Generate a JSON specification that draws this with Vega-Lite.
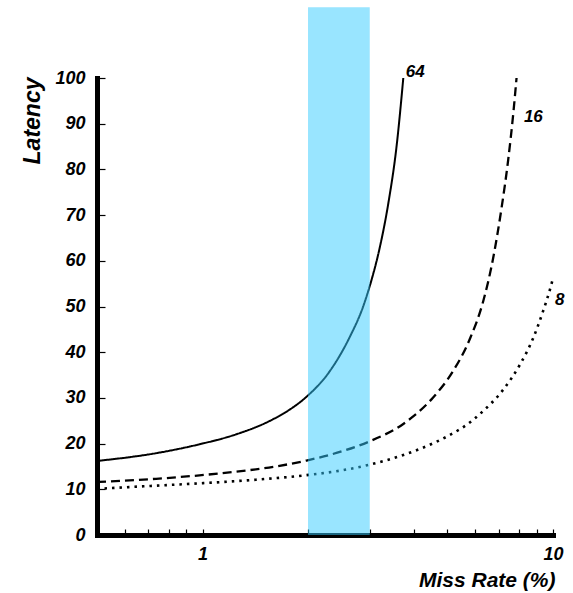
{
  "$schema": "https://vega.github.io/schema/vega-lite/v6.json",
  "width": 456,
  "height": 457,
  "autosize": {"type": "none"},
  "padding": {"left": 97, "top": 78, "right": 20, "bottom": 58},
  "background": "white",
  "config": {
    "view": {"stroke": null},
    "axis": {
      "labelFont": "Liberation Sans",
      "labelFontWeight": "bold",
      "labelFontStyle": "italic",
      "labelColor": "black",
      "labelFontSize": 18,
      "titleFont": "Liberation Sans",
      "titleFontWeight": "bold",
      "titleFontStyle": "italic",
      "titleColor": "black",
      "titleFontSize": 21,
      "domainColor": "black",
      "domainWidth": 5,
      "domainCap": "square",
      "tickColor": "black",
      "tickWidth": 1.2,
      "grid": false
    }
  },
  "datasets": {
    "curves": [
      {"series": "64", "miss": 0.5, "latency": 16.2},
      {"series": "64", "miss": 0.737, "latency": 17.9},
      {"series": "64", "miss": 0.98, "latency": 19.85},
      {"series": "64", "miss": 1.25, "latency": 22.05},
      {"series": "64", "miss": 1.55, "latency": 24.9},
      {"series": "64", "miss": 1.77, "latency": 27.4},
      {"series": "64", "miss": 1.97, "latency": 30.1},
      {"series": "64", "miss": 2.31, "latency": 35.9},
      {"series": "64", "miss": 2.63, "latency": 43.3},
      {"series": "64", "miss": 2.87, "latency": 49.9},
      {"series": "64", "miss": 3.03, "latency": 55.6},
      {"series": "64", "miss": 3.2, "latency": 62.7},
      {"series": "64", "miss": 3.39, "latency": 72.6},
      {"series": "64", "miss": 3.58, "latency": 85.2},
      {"series": "64", "miss": 3.74, "latency": 100},
      {"series": "16", "miss": 0.5, "latency": 11.6},
      {"series": "16", "miss": 0.737, "latency": 12.3},
      {"series": "16", "miss": 0.98, "latency": 13.05},
      {"series": "16", "miss": 1.33, "latency": 14.1},
      {"series": "16", "miss": 1.62, "latency": 15.0},
      {"series": "16", "miss": 1.98, "latency": 16.3},
      {"series": "16", "miss": 2.52, "latency": 18.4},
      {"series": "16", "miss": 3.0, "latency": 20.5},
      {"series": "16", "miss": 3.74, "latency": 24.3},
      {"series": "16", "miss": 4.0, "latency": 26.0},
      {"series": "16", "miss": 4.55, "latency": 30.1},
      {"series": "16", "miss": 5.19, "latency": 35.9},
      {"series": "16", "miss": 5.79, "latency": 42.9},
      {"series": "16", "miss": 6.32, "latency": 51.1},
      {"series": "16", "miss": 6.75, "latency": 60.6},
      {"series": "16", "miss": 7.13, "latency": 71.5},
      {"series": "16", "miss": 7.45, "latency": 82.1},
      {"series": "16", "miss": 7.7, "latency": 92.1},
      {"series": "16", "miss": 7.87, "latency": 100},
      {"series": "8", "miss": 0.5, "latency": 10.1},
      {"series": "8", "miss": 0.737, "latency": 10.8},
      {"series": "8", "miss": 0.98, "latency": 11.3},
      {"series": "8", "miss": 1.42, "latency": 12.1},
      {"series": "8", "miss": 1.98, "latency": 13.1},
      {"series": "8", "miss": 2.52, "latency": 14.2},
      {"series": "8", "miss": 3.0, "latency": 15.4},
      {"series": "8", "miss": 3.74, "latency": 17.5},
      {"series": "8", "miss": 4.65, "latency": 20.4},
      {"series": "8", "miss": 4.97, "latency": 21.5},
      {"series": "8", "miss": 5.92, "latency": 25.2},
      {"series": "8", "miss": 6.19, "latency": 26.5},
      {"series": "8", "miss": 7.21, "latency": 31.8},
      {"series": "8", "miss": 8.05, "latency": 37.3},
      {"series": "8", "miss": 8.78, "latency": 43.1},
      {"series": "8", "miss": 9.38, "latency": 49.1},
      {"series": "8", "miss": 9.8, "latency": 53.7},
      {"series": "8", "miss": 10, "latency": 56.2}
    ],
    "band": [{"x": 2, "x2": 3, "y": 0, "y2": 115.5}],
    "labels": [
      {"text": "64", "miss": 3.8, "latency": 101.3},
      {"text": "16", "miss": 8.26, "latency": 91.5},
      {"text": "8", "miss": 10.13, "latency": 51.4}
    ]
  },
  "layer": [
    {
      "data": {"name": "curves"},
      "mark": {"type": "line", "interpolate": "monotone", "color": "black", "clip": false},
      "encoding": {
        "x": {
          "field": "miss",
          "type": "quantitative",
          "scale": {"type": "log", "domain": [0.5, 10], "nice": false},
          "axis": {
            "title": "Miss Rate (%)",
            "values": [0.6, 0.7, 0.8, 0.9, 1, 2, 3, 4, 5, 6, 7, 8, 9, 10],
            "labelExpr": "datum.value == 1 ? '1' : (datum.value == 10 ? '10' : '')",
            "tickSize": -6,
            "labelPadding": 16,
            "labelFlush": false,
            "labelOverlap": false,
            "titleAnchor": "end",
            "titleAlign": "right",
            "titleBaseline": "middle",
            "titleX": 458,
            "titleY": 45
          }
        },
        "y": {
          "field": "latency",
          "type": "quantitative",
          "scale": {"domain": [0, 100], "nice": false},
          "axis": {
            "title": "Latency",
            "values": [0, 10, 20, 30, 40, 50, 60, 70, 80, 90, 100],
            "tickSize": -8,
            "labelPadding": 20,
            "labelFlush": false,
            "labelOverlap": false,
            "titleAnchor": "end",
            "titleAngle": -90,
            "titleAlign": "right",
            "titleBaseline": "middle",
            "titleFontSize": 23,
            "titleX": -65,
            "titleY": -1
          }
        },
        "strokeDash": {
          "field": "series",
          "type": "nominal",
          "scale": {"domain": ["64", "16", "8"], "range": [[1, 0], [9, 5], [2.5, 5]]},
          "legend": null
        },
        "strokeWidth": {
          "field": "series",
          "type": "nominal",
          "scale": {"domain": ["64", "16", "8"], "range": [2, 2.6, 2.6]},
          "legend": null
        }
      }
    },
    {
      "data": {"name": "band"},
      "mark": {"type": "rect", "color": "#33ccff", "opacity": 0.5, "clip": false},
      "encoding": {
        "x": {"field": "x", "type": "quantitative"},
        "x2": {"field": "x2"},
        "y": {"field": "y", "type": "quantitative"},
        "y2": {"field": "y2"}
      }
    },
    {
      "data": {"name": "labels"},
      "mark": {"type": "text", "align": "left", "baseline": "middle", "font": "Liberation Sans", "fontWeight": "bold", "fontStyle": "italic", "fontSize": 17, "color": "black", "clip": false},
      "encoding": {
        "x": {"field": "miss", "type": "quantitative"},
        "y": {"field": "latency", "type": "quantitative"},
        "text": {"field": "text"}
      }
    }
  ]
}
